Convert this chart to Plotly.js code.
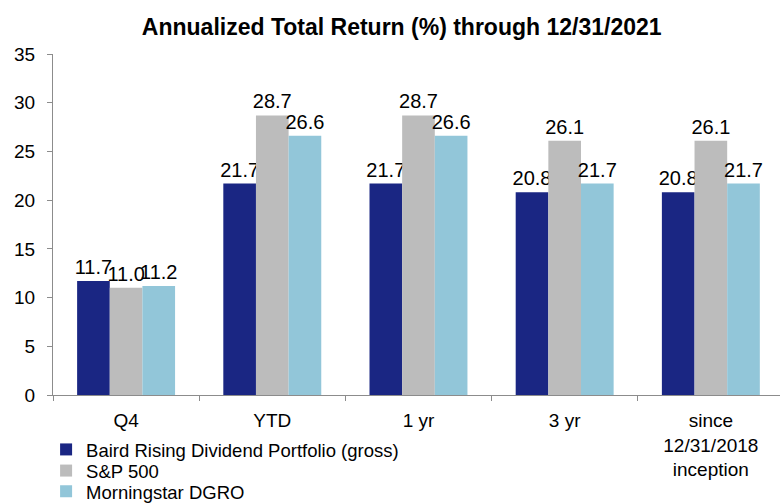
<!DOCTYPE html>
<html>
<head>
<meta charset="utf-8">
<script src="https://cdn.plot.ly/plotly-3.0.1.min.js"></script>
<style>html,body{margin:0;padding:0;background:#fff;}#chart{width:780px;height:504px;}</style>
</head>
<body>
<div id="chart"></div>
<script>
const categories = ["Q4", "YTD", "1 yr", "3 yr", "since<br>12/31/2018<br>inception"];
const seriesNames = ["Baird Rising Dividend Portfolio (gross)", "S&P 500", "Morningstar DGRO"];
const bairdValues = [11.7, 21.7, 21.7, 20.8, 20.8];
const spValues = [11.0, 28.7, 28.7, 26.1, 26.1];
const dgroValues = [11.2, 26.6, 26.6, 21.7, 21.7];
const colors = ["#1a2683", "#bcbcbc", "#92c6d9"];
const legendIds = ["legend", "legend2", "legend3"];
const legendY = [-0.161, -0.223, -0.284];

const FONT = "Liberation Sans, Arial, sans-serif";
const allValues = [bairdValues, spValues, dgroValues];
const traces = allValues.map((vals, i) => ({
  type: "bar",
  name: seriesNames[i],
  x: categories,
  y: vals,
  legend: legendIds[i],
  marker: {color: colors[i], line: {width: 0}},
  text: vals.map(v => v.toFixed(1)),
  textposition: "outside",
  constraintext: "none",
  cliponaxis: false,
  textfont: {family: FONT, size: 20, color: "#000"},
  hoverinfo: "skip"
}));

function legendDef(y) {
  return {
    orientation: "v",
    x: -0.0095, xanchor: "left",
    y: y, yanchor: "middle",
    font: {family: FONT, size: 18.5, color: "#000"},
    bgcolor: "rgba(0,0,0,0)",
    itemwidth: 30
  };
}

const layout = {
  width: 780,
  height: 504,
  margin: {l: 53, r: 0, t: 54, b: 109, autoexpand: false},
  paper_bgcolor: "#fff",
  plot_bgcolor: "#fff",
  font: {family: FONT, size: 19, color: "#000"},
  title: {
    text: "<b>Annualized Total Return (%) through 12/31/2021</b>",
    font: {family: FONT, size: 23, color: "#000"},
    x: 0.515, xanchor: "center", xref: "container",
    y: 0.946, yanchor: "middle", yref: "container"
  },
  barmode: "group",
  bargap: 0.33,
  bargroupgap: 0,
  xaxis: {
    type: "category",
    range: [-0.5, 4.473],
    showline: true, linecolor: "#8c8c8c", linewidth: 1,
    ticks: "outside", tickson: "boundaries", ticklen: 5, tickcolor: "#8c8c8c",
    ticklabelstandoff: 8,
    showgrid: false, zeroline: false,
    tickfont: {family: FONT, size: 19, color: "#000"},
    fixedrange: true,
    automargin: false
  },
  yaxis: {
    range: [0, 35],
    dtick: 5,
    showline: true, linecolor: "#8c8c8c", linewidth: 1,
    ticks: "outside", ticklen: 5, tickcolor: "#8c8c8c",
    ticklabelstandoff: 8,
    showgrid: false, zeroline: false,
    tickfont: {family: FONT, size: 19, color: "#000"},
    fixedrange: true,
    automargin: false
  },
  showlegend: true,
  legend: legendDef(legendY[0]),
  legend2: legendDef(legendY[1]),
  legend3: legendDef(legendY[2])
};

Plotly.newPlot("chart", traces, layout, {displayModeBar: false, staticPlot: true});
</script>
</body>
</html>
